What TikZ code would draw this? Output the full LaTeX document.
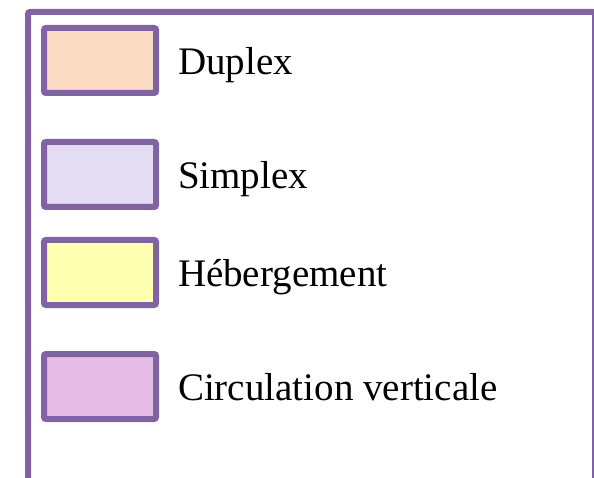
\documentclass[tikz,border=0pt]{standalone}
\usepackage{fontspec}
\setmainfont{Liberation Serif}
\usepackage{tikz}
\usepackage{xcolor}
\usetikzlibrary{positioning}
\definecolor{legpurple}{HTML}{8064A2}
\definecolor{legpeach}{HTML}{FADAC2}
\definecolor{leglilac}{HTML}{E4DCF3}
\definecolor{legyellow}{HTML}{FFFFB2}
\definecolor{legpink}{HTML}{E6BCE6}

\begin{document}
\begin{tikzpicture}[x=1pt, y=1pt,
    legbox/.style={draw=legpurple, line width=6pt, rounded corners=2pt, inner sep=0pt, outer sep=0pt, minimum width=112pt, minimum height=65pt},
    legtxt/.style={inner sep=0pt, outer sep=0pt, text height=28pt, text depth=0pt, font=\fontsize{39}{47}\selectfont}]
    \useasboundingbox (0,0) rectangle (594,477);

    % frame
    \draw[legpurple, line width=6pt, rounded corners=2pt] (28,-5) -- (28,465) -- (595,465) -- (595,-5);

    % colour keys
    \node[legbox, fill=legpeach] (duplex) at (100,416.5) {};
    \node[legbox, fill=leglilac, below=49pt of duplex] (simplex) {};
    \node[legbox, fill=legyellow, below=33pt of simplex] (heberg) {};
    \node[legbox, fill=legpink, below=49pt of heberg] (circ) {};

    % labels
    \node[legtxt, anchor=west, right=22pt of duplex] (duplextxt) {Duplex};
    \node[legtxt, anchor=west, right=22pt of simplex] (simplextxt) {Simplex};
    \node[legtxt, anchor=west, right=22pt of heberg] (hebergtxt) {Hébergement};
    \node[legtxt, anchor=west, right=22pt of circ] (circtxt) {Circulation verticale};
\end{tikzpicture}
\end{document}
